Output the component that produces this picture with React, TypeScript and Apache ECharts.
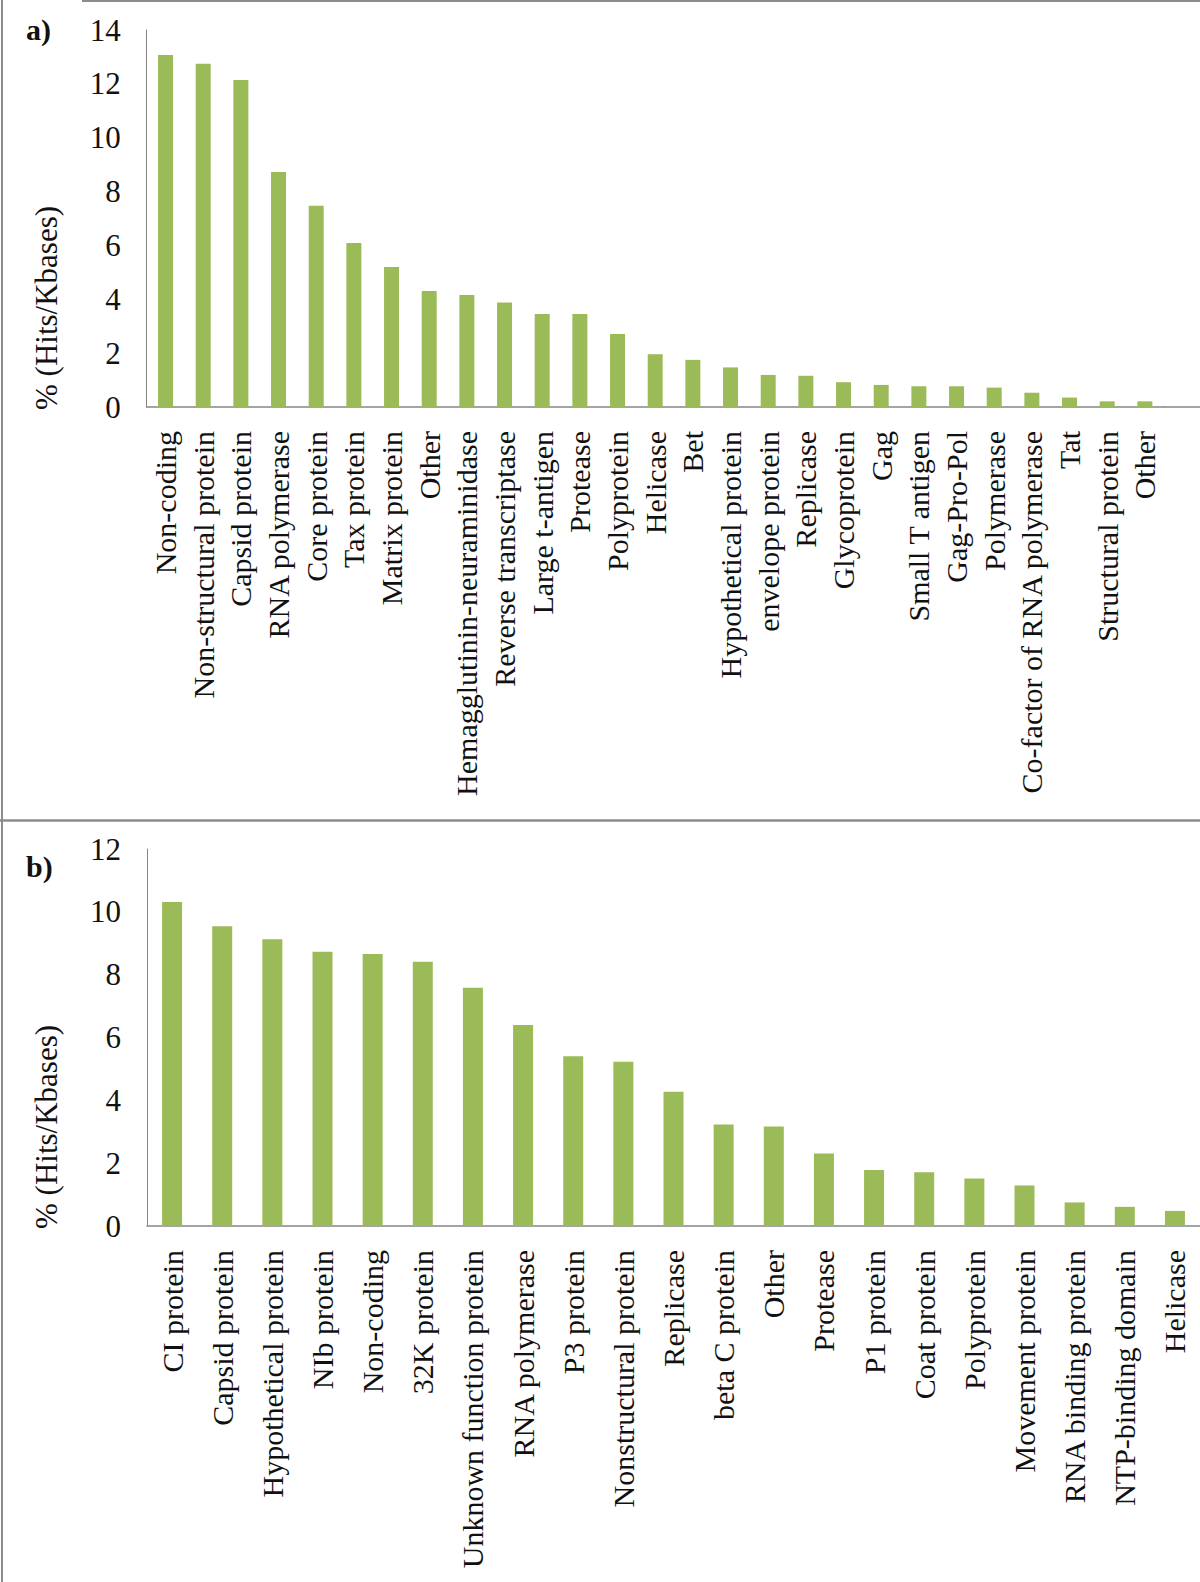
import React, { useEffect, useRef } from "react";
import * as echarts from "echarts";

const catsA = [
  "Non-coding", "Non-structural protein", "Capsid protein", "RNA polymerase", "Core protein",
  "Tax protein", "Matrix protein", "Other", "Hemagglutinin-neuraminidase", "Reverse transcriptase",
  "Large t-antigen", "Protease", "Polyprotein", "Helicase", "Bet", "Hypothetical protein",
  "envelope protein", "Replicase", "Glycoprotein", "Gag", "Small T antigen", "Gag-Pro-Pol",
  "Polymerase", "Co-factor of RNA polymerase", "Tat", "Structural protein", "Other",
];
const valsA = [
  13.07, 12.75, 12.14, 8.73, 7.47, 6.09, 5.2, 4.31, 4.16, 3.88, 3.45, 3.45, 2.71, 1.96,
  1.75, 1.47, 1.19, 1.16, 0.92, 0.82, 0.77, 0.77, 0.72, 0.53, 0.35, 0.21, 0.21,
];
const catsB = [
  "CI protein", "Capsid protein", "Hypothetical protein", "NIb protein", "Non-coding",
  "32K protein", "Unknown function protein", "RNA polymerase", "P3 protein",
  "Nonstructural protein", "Replicase", "beta C protein", "Other", "Protease", "P1 protein",
  "Coat protein", "Polyprotein", "Movement protein", "RNA binding protein",
  "NTP-binding domain", "Helicase",
];
const valsB = [
  10.31, 9.54, 9.13, 8.73, 8.66, 8.41, 7.58, 6.4, 5.4, 5.23, 4.27, 3.23, 3.17, 2.31,
  1.78, 1.71, 1.51, 1.29, 0.75, 0.61, 0.48,
];
const yTicksA = { min: 0, max: 14, interval: 2 };
const yTicksB = { min: 0, max: 12, interval: 2 };
const yTitle = "% (Hits/Kbases)";
const panelLabels = ["a)", "b)"];

const FONT = "Liberation Serif";
const GREEN = "#9BBB59";
const AXIS = "#868686";
const BORDER = "#8c8c8c";

export default function App() {
  const ref = useRef<HTMLDivElement>(null);
  useEffect(() => {
    if (!ref.current) return;
    const chart = echarts.init(ref.current, undefined, { renderer: "svg" });
    const xAxisCommon = (data: string[], gridIndex: number) => ({
      type: "category",
      gridIndex,
      data,
      axisLine: { show: true, lineStyle: { color: AXIS, width: 1.5 } },
      axisTick: { show: false },
      axisLabel: {
        rotate: 90,
        interval: 0,
        margin: 24,
        fontFamily: FONT,
        fontSize: 30,
        color: "#111",
      },
    });
    const yAxisCommon = (t: { min: number; max: number; interval: number }, gridIndex: number) => ({
      type: "value",
      gridIndex,
      min: t.min,
      max: t.max,
      interval: t.interval,
      axisLine: { show: true, lineStyle: { color: AXIS, width: 1 } },
      axisTick: { show: false },
      splitLine: { show: false },
      axisLabel: { margin: 26, fontFamily: FONT, fontSize: 31, color: "#111" },
    });
    const titleText = (x: number, y: number) => ({
      type: "text",
      x,
      y,
      rotation: Math.PI / 2,
      style: {
        text: yTitle,
        fontFamily: FONT,
        fontSize: 31,
        fill: "#111",
        align: "center",
        verticalAlign: "middle",
      },
    });
    const panelText = (text: string, x: number, y: number) => ({
      type: "text",
      x,
      y,
      style: {
        text,
        fontFamily: FONT,
        fontSize: 30,
        fontWeight: "bold",
        fill: "#111",
        align: "left",
        verticalAlign: "middle",
      },
    });
    const line = (x1: number, y1: number, x2: number, y2: number, color: string, w: number) => ({
      type: "line",
      shape: { x1, y1, x2, y2 },
      style: { stroke: color, lineWidth: w },
    });
    chart.setOption({
      animation: false,
      backgroundColor: "#ffffff",
      grid: [
        { left: 146.7, top: 30, width: 1017, height: 377 },
        { left: 147, top: 849, width: 1053, height: 377 },
      ],
      xAxis: [xAxisCommon(catsA, 0), xAxisCommon(catsB, 1)],
      yAxis: [yAxisCommon(yTicksA, 0), yAxisCommon(yTicksB, 1)],
      series: [
        {
          type: "bar",
          xAxisIndex: 0,
          yAxisIndex: 0,
          data: valsA,
          barWidth: 15,
          itemStyle: { color: GREEN },
        },
        {
          type: "bar",
          xAxisIndex: 1,
          yAxisIndex: 1,
          data: valsB,
          barWidth: 20,
          itemStyle: { color: GREEN },
        },
      ],
      graphic: [
        line(2, 0, 2, 1582, BORDER, 2),
        line(82, 1, 1200, 1, BORDER, 2),
        line(0, 820.5, 1200, 820.5, BORDER, 2.5),
        line(1163.7, 407, 1200, 407, AXIS, 1.5),
        titleText(46, 308),
        titleText(46, 1127),
        panelText(panelLabels[0], 26, 29),
        panelText(panelLabels[1], 26, 866),
      ],
    });
    return () => chart.dispose();
  }, []);
  return (
    <div
      ref={ref}
      style={{ position: "absolute", left: 0, top: 0, width: 1200, height: 1582, background: "#fff" }}
    />
  );
}
